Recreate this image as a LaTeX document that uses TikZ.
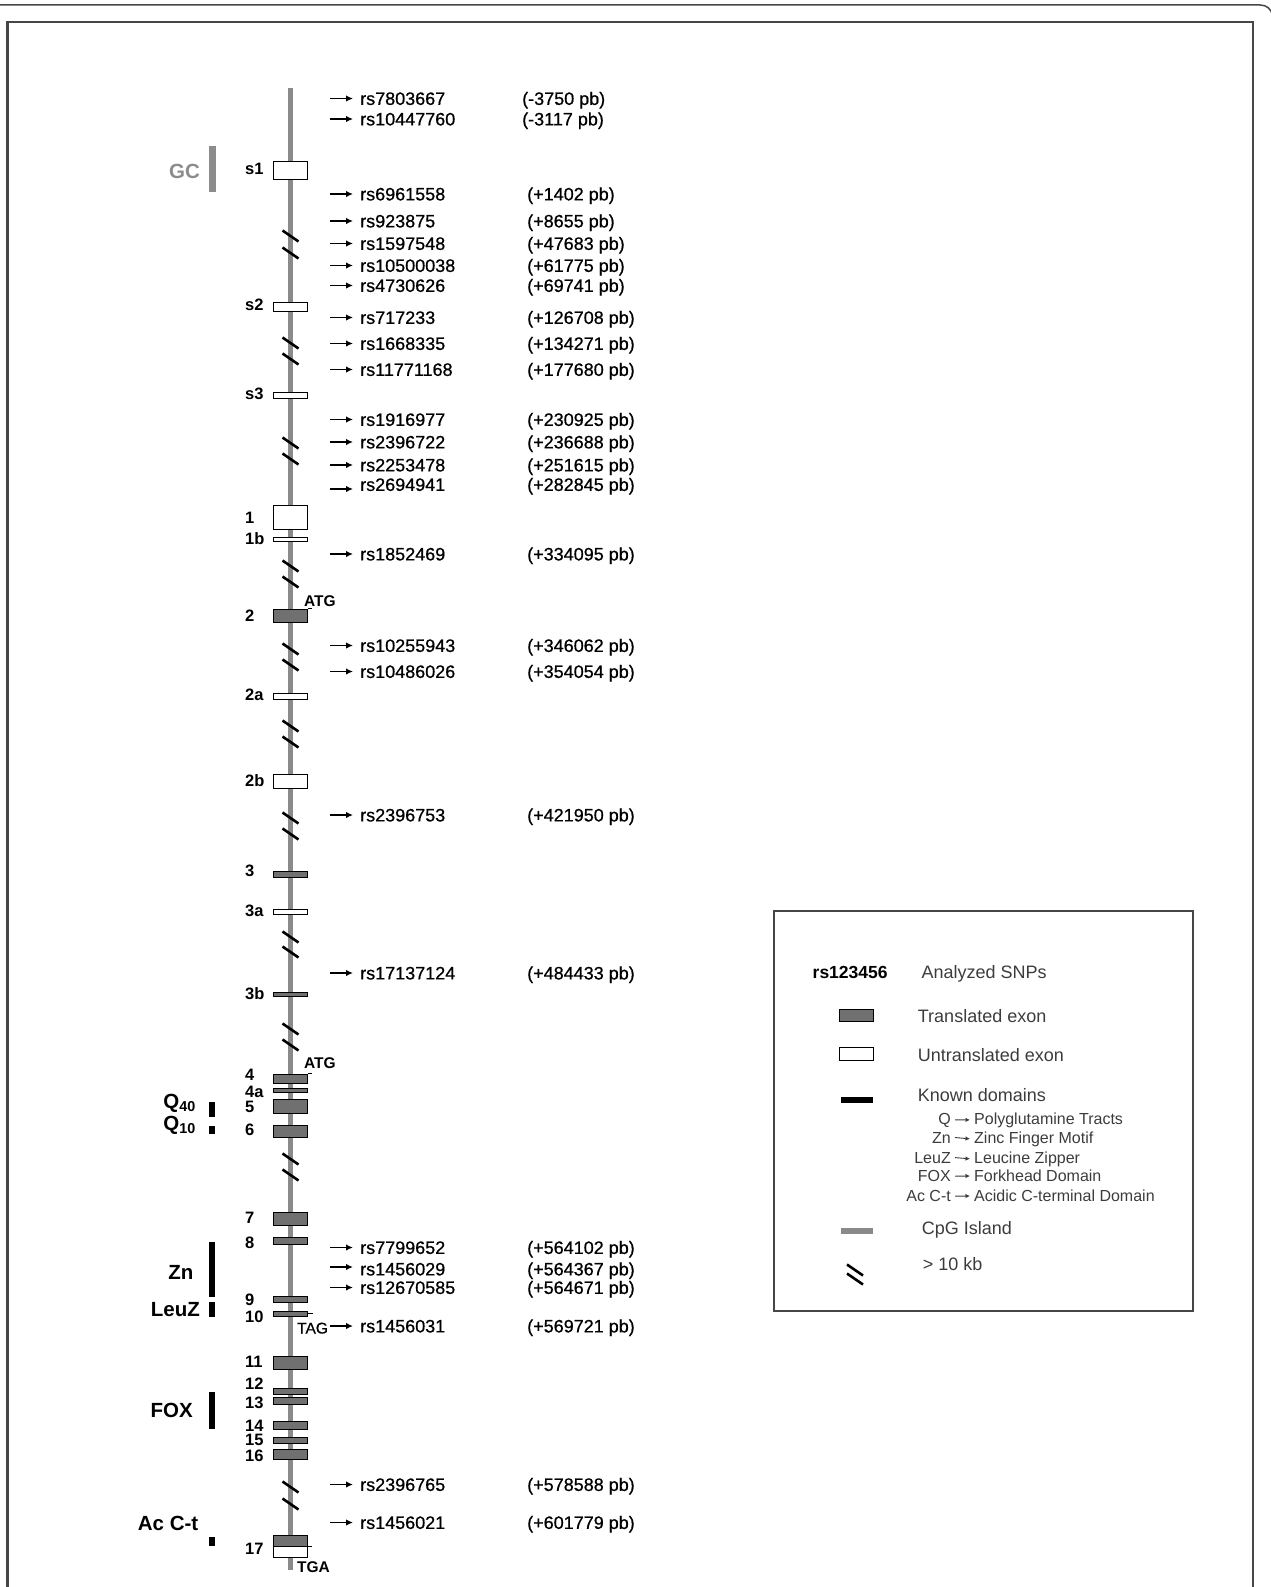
\documentclass[tikz,border=0pt]{standalone}
\usepackage{fontspec}
\setmainfont{Liberation Sans}
\newfontfamily\snpfam{Liberation Sans}[FakeBold=0.7]
\usetikzlibrary{arrows.meta}
\definecolor{lineg}{RGB}{138,138,138}
\definecolor{exg}{RGB}{112,112,112}
\definecolor{legtxt}{RGB}{60,60,60}
\definecolor{gcg}{RGB}{140,140,140}
\definecolor{framec}{RGB}{70,70,70}
\begin{document}
\begin{tikzpicture}[x=1pt,y=-1pt,
  snptxt/.style={font=\snpfam\fontsize{18}{21}\selectfont, inner sep=0pt, anchor=base west},
  exlab/.style={font=\fontsize{16.5}{19}\selectfont\bfseries, inner sep=0pt, anchor=base west},
  domlab/.style={font=\fontsize{20.5}{24}\selectfont\bfseries, inner sep=0pt, anchor=base east},
  codonb/.style={font=\fontsize{15.5}{18}\selectfont\bfseries, inner sep=0pt, anchor=base west},
  codonr/.style={font=\snpfam\fontsize{15.5}{18}\selectfont, inner sep=0pt, anchor=base west},
  legtext/.style={font=\fontsize{18}{21}\selectfont, text=legtxt, inner sep=0pt, anchor=base west},
  legsub/.style={font=\fontsize{16}{19}\selectfont, text=legtxt, inner sep=0pt},
  snparrow/.style={line width=1.7pt, -{Latex[length=7pt,width=6.5pt]}},
  legarrow/.style={line width=0.9pt, legtxt, -{Latex[length=4.5pt,width=4.5pt]}},
  brk/.style={line width=2.6pt, black},
  exon/.style={draw=black, line width=0.8pt, minimum width=34pt, inner sep=0pt, rectangle},
]
\useasboundingbox (0,0) rectangle (1271,1587);
% frames
\draw[line width=1.5pt, framec] (0,5) -- (1260,5) .. controls (1267,5) and (1271,9) .. (1273,16);
\draw[line width=2.5pt, framec] (7.5,1600) -- (7.5,22) -- (1253,22) -- (1253,1600);

% backbone
\coordinate (gtop) at (290.5,88);
\coordinate (gbot) at (290.5,1570);
\draw[line width=5pt, lineg] (gtop) -- (gbot);

% break marks
\foreach \y in {236,253,343,359,443,459,566,582,649,665,726,742,818,834,937,952,1029,1045,1159,1175,1487,1504}
  \draw[brk] (282.5,\y-5.5) -- (298.5,\y+5.5);

% exons
\foreach \n/\t/\b/\f in {s1/161/179/white, s2/302/311/white, s3/392/398/white, 1/505/529/white,
  1b/537/541/white, 2/609/622/exg, 2a/693/699/white, 2b/774/788/white, 3/871/877/exg,
  3a/909/914/white, 3b/992/996/exg, 4/1074/1083/exg, 4a/1088/1092/exg, 5/1099/1113/exg,
  6/1125/1137/exg, 7/1212/1225/exg, 8/1237/1244/exg, 9/1296/1302/exg, 10/1311/1316/exg,
  11/1356/1369/exg, 12/1388/1394/exg, 13/1397/1404/exg, 14/1421/1429/exg, 15/1437/1443/exg,
  16/1449/1459/exg, 17/1535/1546/exg, 17u/1546/1557/white}
  \node[exon, fill=\f, minimum height={(\b-\t)*1pt}] (e\n) at (290.5,{(\t+\b)/2}) {};

% codon ticks
\draw[line width=1pt] (e2.north east) -- ++(4,0);
\draw[line width=1pt] (e4.north east) -- ++(4,0);
\draw[line width=1pt] (e10.east) -- ++(5,0);
\draw[line width=1pt] (e17.south east) -- ++(4,0);
\node[codonb] (atg1) at (304,606.5) {ATG};
\node[codonb] (atg2) at (304,1068.5) {ATG};
\node[codonr] (tag) at (297,1333.5) {TAG};
\node[codonb] (tga) at (297,1572) {TGA};

% exon labels
\foreach \l/\y in {s1/169, s2/305, s3/394, 1/518, 1b/539, 2/616, 2a/695, 2b/781, 3/871, 3a/911,
  3b/994, 4/1075, 4a/1092, 5/1107, 6/1130, 7/1218, 8/1243, 9/1300, 10/1317, 11/1362,
  12/1384, 13/1403, 14/1426, 15/1440, 16/1456, 17/1549}
  \node[exlab] (lab\l) at (245,\y+5.9) {\l};

% SNPs
\foreach \y/\n/\p/\px/\ay [count=\i] in {
  98.5/rs7803667/{(-3750 pb)}/522/98.5,
  119/rs10447760/{(-3117 pb)}/522/119,
  194/rs6961558/{(+1402 pb)}/527/194,
  221/rs923875/{(+8655 pb)}/527/221,
  243.5/rs1597548/{(+47683 pb)}/527/243.5,
  265.5/rs10500038/{(+61775 pb)}/527/265.5,
  285.5/rs4730626/{(+69741 pb)}/527/285.5,
  317.5/rs717233/{(+126708 pb)}/527/317.5,
  343.5/rs1668335/{(+134271 pb)}/527/343.5,
  369.5/rs11771168/{(+177680 pb)}/527/369.5,
  419.5/rs1916977/{(+230925 pb)}/527/419.5,
  442/rs2396722/{(+236688 pb)}/527/442,
  465/rs2253478/{(+251615 pb)}/527/465,
  484.5/rs2694941/{(+282845 pb)}/527/489,
  554/rs1852469/{(+334095 pb)}/527/554,
  645.5/rs10255943/{(+346062 pb)}/527/645.5,
  671.5/rs10486026/{(+354054 pb)}/527/671.5,
  815/rs2396753/{(+421950 pb)}/527/815,
  973/rs17137124/{(+484433 pb)}/527/973,
  1247.5/rs7799652/{(+564102 pb)}/527/1247.5,
  1269/rs1456029/{(+564367 pb)}/527/1267,
  1287.5/rs12670585/{(+564671 pb)}/527/1287.5,
  1326/rs1456031/{(+569721 pb)}/527/1326,
  1484.5/rs2396765/{(+578588 pb)}/527/1484.5,
  1522.5/rs1456021/{(+601779 pb)}/527/1522.5}{
  \node[snptxt] (snp\i) at (360,\y+6.4) {\n};
  \node[snptxt] (pb\i) at (\px,\y+6.4) {\p};
  \coordinate (sa\i) at (330,\ay);
  \coordinate (sb\i) at (353,\ay);
  \draw[snparrow] (sa\i) -- (sb\i);
}

% domains
\fill[gcg] (209,146) rectangle (215.5,192);
\node[domlab, text=gcg] (dGC) at (200,171+7.3) {GC};
\fill (209,1102) rectangle (215,1117);
\node[domlab] (dQ40) at (196,1101+7.3) {Q\textsubscript{40}};
\fill (209,1126) rectangle (215,1134);
\node[domlab] (dQ10) at (196,1123+7.3) {Q\textsubscript{10}};
\fill (208.5,1242) rectangle (215,1297);
\node[domlab] (dZn) at (193.5,1272+7.3) {Zn};
\fill (208.5,1302) rectangle (215,1317);
\node[domlab] (dLeuZ) at (200,1309+7.3) {LeuZ};
\fill (208.5,1392) rectangle (214.5,1429);
\node[domlab] (dFOX) at (193,1410+7.3) {FOX};
\fill (208.5,1537) rectangle (214.5,1546);
\node[domlab] (dAc) at (198.5,1523+7.3) {Ac C-t};

% legend
\node[draw=framec, line width=1.5pt, minimum width=419pt, minimum height=400pt, inner sep=0pt] (legend) at (983.5,1111) {};
\node[font=\fontsize{17.5}{21}\selectfont\bfseries, inner sep=0pt, anchor=base west] (lrs) at (812.5,978) {rs123456};
\node[legtext] (l1) at (921.5,978) {Analyzed SNPs};
\node[exon, fill=exg, minimum height=12pt] (lt) at (856.5,1015) {};
\node[legtext] (l2) at (917.7,1022.4) {Translated exon};
\node[exon, fill=white, minimum height=13.5pt] (lu) at (856.5,1054) {};
\node[legtext] (l3) at (917.7,1061.4) {Untranslated exon};
\fill (840.7,1097) rectangle (873.3,1103);
\node[legtext] (l4) at (917.7,1101.4) {Known domains};
\foreach \a/\b/\y [count=\j] in {Q/Polyglutamine Tracts/1118.3, Zn/Zinc Finger Motif/1137.3,
  LeuZ/Leucine Zipper/1157.3, FOX/Forkhead Domain/1176, Ac C-t/Acidic C-terminal Domain/1196}{
  \node[legsub, anchor=base east] (ka\j) at (951,\y+5.7) {\a};
  \node[legsub, anchor=base west] (kb\j) at (974,\y+5.7) {\b};
  \draw[legarrow] ([xshift=4pt]ka\j.east) -- ([xshift=-4pt]kb\j.west);
}
\fill[lineg] (840.7,1228) rectangle (873.3,1233.5);
\node[legtext] (l5) at (921.7,1234.4) {CpG Island};
\draw[brk] (847,1264.5) -- (863,1275.5);
\draw[brk] (847,1273.5) -- (863,1284.5);
\node[legtext] (l6) at (922.7,1270.7) {> 10 kb};
\end{tikzpicture}
\end{document}
